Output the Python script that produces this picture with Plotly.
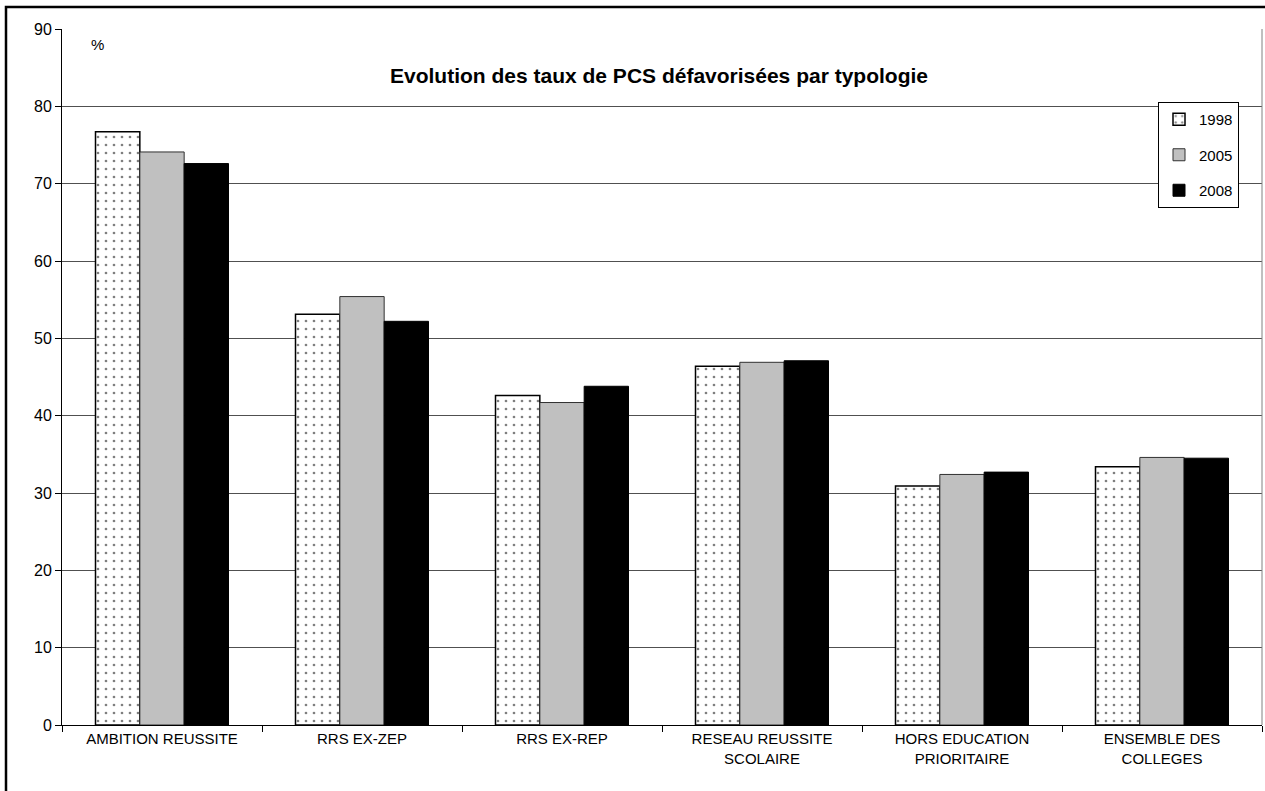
import plotly.graph_objects as go

categories = ["AMBITION REUSSITE", "RRS EX-ZEP", "RRS EX-REP",
              "RESEAU REUSSITE<br>SCOLAIRE", "HORS EDUCATION<br>PRIORITAIRE",
              "ENSEMBLE DES<br>COLLEGES"]
v1998 = [76.7, 53.1, 42.6, 46.4, 30.9, 33.4]
v2005 = [74.1, 55.4, 41.7, 46.9, 32.4, 34.6]
v2008 = [72.6, 52.2, 43.8, 47.1, 32.7, 34.5]
y_ticks = list(range(0, 91, 10))

W, H = 1265, 791
L, R, T, B = 62, 3, 29, 66
pw, ph = W - L - R, H - T - B

def px_x(x):
  return (x - L) / pw

def px_y(y):
  return 1 - (y - T) / ph

FONT = "Liberation Sans, Arial"

fig = go.Figure()
fig.add_trace(go.Bar(
  x=categories, y=v1998, name="1998", legendgroup="a",
  marker=dict(color="white", line=dict(color="black", width=1.5),
              pattern=dict(shape=".", fgcolor="black", bgcolor="white",
                           size=8, solidity=0.09))
))
fig.add_trace(go.Bar(
  x=categories, y=v2005, name="2005", legendgroup="b",
  marker=dict(color="#c0c0c0", line=dict(color="#303030", width=1))
))
fig.add_trace(go.Bar(
  x=categories, y=v2008, name="2008", legendgroup="c",
  marker=dict(color="black", line=dict(color="black", width=1))
))

fig.update_xaxes(
  showline=True, linecolor="black", linewidth=1,
  ticks="outside", ticklen=6, tickcolor="black", tickson="boundaries",
  tickfont=dict(family=FONT, size=15, color="black"),
  showgrid=False,
)
fig.update_yaxes(
  range=[0, 90], tickvals=y_ticks,
  showline=True, linecolor="black", linewidth=1,
  ticks="outside", ticklen=6, tickcolor="black",
  showgrid=True, gridcolor="#505050", gridwidth=1,
  zeroline=False,
  tickfont=dict(family=FONT, size=16, color="black"),
)

fig.update_layout(
  width=W, height=H,
  margin=dict(l=L, r=R, t=T, b=B),
  barmode="group", bargap=0.335, bargroupgap=0,
  plot_bgcolor="white", paper_bgcolor="white",
  font=dict(family=FONT, size=15, color="black"),
  legend=dict(
    x=px_x(1158), y=px_y(102), xanchor="left", yanchor="top",
    bgcolor="white", bordercolor="black", borderwidth=1,
    font=dict(size=15), itemwidth=30, tracegroupgap=13,
    traceorder="grouped",
  ),
  annotations=[
    dict(text="<b>Evolution des taux de PCS défavorisées par typologie</b>",
         x=px_x(659), y=px_y(75), xref="paper", yref="paper",
         xanchor="center", yanchor="middle",
         showarrow=False, font=dict(size=21)),
    dict(text="%", x=px_x(97), y=px_y(45), xref="paper", yref="paper",
         xanchor="center", yanchor="middle",
         showarrow=False, font=dict(size=15)),
  ],
  shapes=[
    # right border of plot area
    dict(type="line", xref="paper", yref="paper", x0=1, x1=1, y0=0, y1=1,
         line=dict(color="#808080", width=1)),
    # outer frame, runs off the right and bottom
    dict(type="rect", xref="paper", yref="paper",
         x0=px_x(6), x1=px_x(1290), y0=px_y(7), y1=px_y(820),
         line=dict(color="black", width=2.5)),
  ],
)

# page body has a default 8px margin; drop it so the figure sits at 0,0
fig.write_html("out.html", config={"displayModeBar": False},
               post_script="document.body.style.margin='0px';document.body.style.overflow='hidden';")
